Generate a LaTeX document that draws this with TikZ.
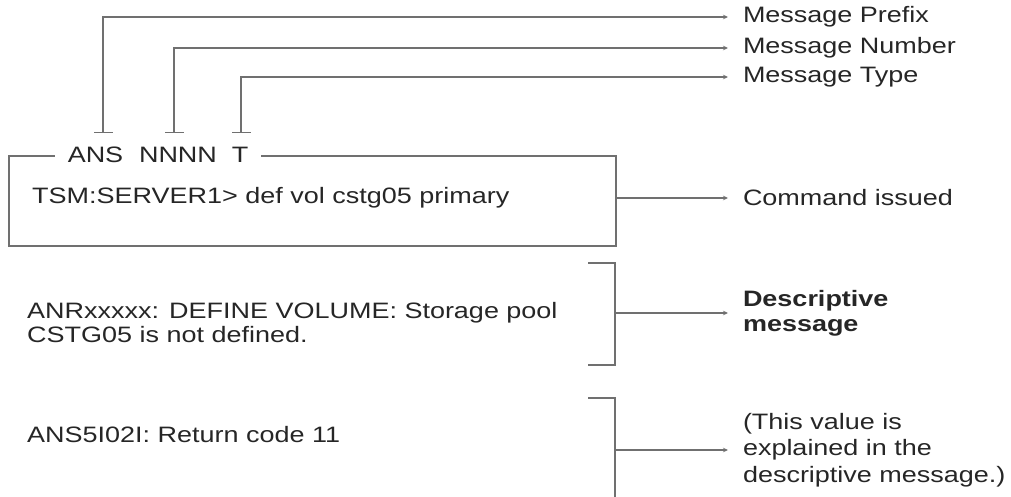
\documentclass[tikz,border=0pt]{standalone}
\usepackage{fontspec}
\setmainfont{Liberation Sans}[FakeStretch=1.21]
\usetikzlibrary{arrows.meta}
\definecolor{txt}{HTML}{262626}
\definecolor{ln}{HTML}{707070}
\begin{document}
\begin{tikzpicture}[x=1pt,y=1pt,
  every node/.style={inner sep=0pt, text=txt, font=\fontsize{22.3}{26.5}\selectfont},
  frame/.style={draw=ln, line width=1.8pt},
  conn/.style={draw=ln, line width=1.4pt, -{Stealth[length=5pt,width=4.5pt]}},
  tbarconn/.style={draw=ln, line width=1.4pt, {Bar[width=19pt]}-{Stealth[length=5pt,width=4.5pt]}},
  lbl/.style={anchor=west, outer xsep=15pt, align=left},
  hdr/.style={fill=white, inner xsep=13pt, anchor=base},
]
\useasboundingbox (0,0) rectangle (1011,-497);

% command box
\node[frame, minimum width=607pt, minimum height=90pt, anchor=north west] (box) at (8,-155) {};

% header parts
\node[hdr] (ans) at (95.5,-163) {ANS};
\node[hdr] (nnnn) at (178,-163) {NNNN};
\node[hdr] (t) at (240,-163) {T};

\coordinate (pbar) at (103,-133);
\coordinate (nbar) at (174,-133);
\coordinate (tbar) at (241,-133);

% right labels
\node[lbl] (prefix) at (728,-17) {Message Prefix};
\node[lbl] (number) at (728,-48) {Message Number};
\node[lbl] (type) at (728,-77) {Message Type};
\node[lbl] (cmd) at (728,-198) {Command issued};
\node[lbl, font=\fontsize{22.3}{25}\selectfont\bfseries] (desc) at (728,-313) {Descriptive\\message};
\node[lbl] (note) at (728,-450) {(This value is\\explained in the\\descriptive message.)};

\draw[tbarconn] (pbar) |- (prefix.west);
\draw[tbarconn] (nbar) |- (number.west);
\draw[tbarconn] (tbar) |- (type.west);

% left texts
\node[anchor=base west] (tsm) at (32,-204) {TSM:SERVER1> def vol cstg05 primary};
\node[anchor=north west, align=left, font=\fontsize{22.3}{24}\selectfont] (anr) at (27,-302) {ANRxxxxx: DEFINE VOLUME: Storage pool\\CSTG05 is not defined.};
\node[anchor=base west] (rc) at (27,-442) {ANS5I02I: Return code 11};

\draw[conn] (box.east |- cmd.west) -- (cmd.west);

% brackets
\coordinate (b1a) at (588,-263);
\coordinate (b1b) at (615,-263);
\coordinate (b1c) at (615,-365);
\coordinate (b1d) at (588,-365);
\coordinate (b1mid) at (615,-313);
\draw[frame] (b1a) -- (b1b) -- (b1c) -- (b1d);
\draw[conn] (b1mid) -- (desc.west);

\coordinate (b2a) at (588,-398);
\coordinate (b2b) at (615,-398);
\coordinate (b2c) at (615,-497);
\coordinate (b2mid) at (615,-450);
\draw[frame] (b2a) -- (b2b) -- (b2c);
\draw[conn] (b2mid) -- (note.west);
\end{tikzpicture}
\end{document}
